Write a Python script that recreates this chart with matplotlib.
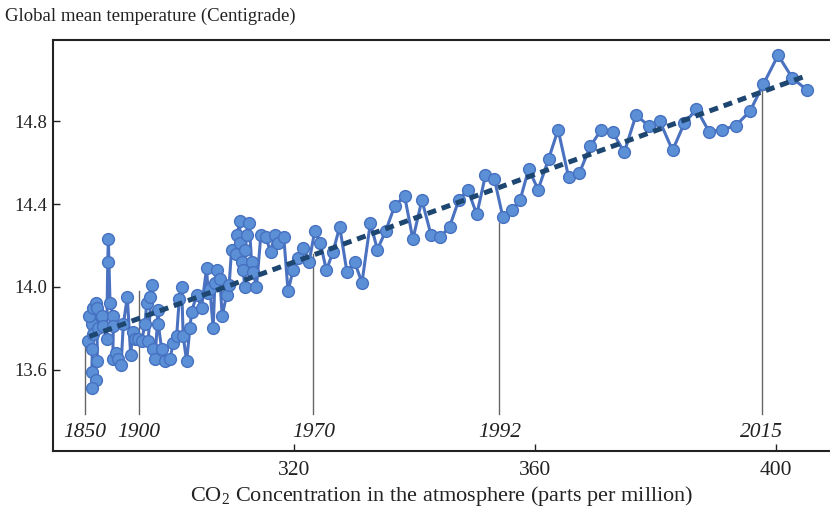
import numpy as np
import matplotlib
matplotlib.use("Agg")
import matplotlib.pyplot as plt

plt.rcParams['font.family'] = ['Liberation Serif', 'DejaVu Serif']
plt.rcParams['mathtext.fontset'] = 'custom'
plt.rcParams['mathtext.rm'] = 'Liberation Serif'

# CO2 (ppm) en temperatuur (°C)
co2 = [285.80, 286.42, 286.02, 286.68, 286.42, 287.13, 286.58, 286.42, 287.13, 286.42,
       287.35, 287.25, 287.51, 288.07, 288.24, 288.90, 289.07, 289.17, 289.45, 290.00,
       290.00, 289.90, 290.45, 290.83, 291.28, 291.66, 292.32, 292.88, 293.21, 293.60,
       294.14, 294.71, 295.25, 295.54, 296.08, 296.36, 295.80, 296.63, 296.91, 297.46,
       297.46, 298.02, 298.57, 299.40, 299.95, 300.51, 300.94, 301.34, 301.60, 302.17,
       302.71, 303.00, 303.82, 304.65, 305.48, 305.75, 306.03, 306.58, 306.86, 307.14,
       307.69, 308.07, 308.80, 309.23, 309.63, 310.34, 310.56, 311.00, 311.00, 311.29,
       311.55, 311.83, 311.83, 312.22, 312.55, 312.95, 313.21, 313.77, 314.49, 315.32,
       316.10, 316.81, 317.36, 318.30, 319.01, 319.84, 320.67, 321.50, 322.50, 323.44,
       324.38, 325.38, 326.47, 327.59, 328.80, 330.07, 331.28, 332.68, 333.84, 335.21,
       336.70, 338.36, 339.74, 341.23, 342.76, 344.25, 345.82, 347.37, 348.86, 350.35,
       351.79, 353.28, 354.66, 356.15, 357.54, 358.97, 360.53, 362.29, 363.85, 365.60,
       367.38, 369.20, 371.03, 372.90, 374.84, 376.78, 378.87, 380.76, 382.85, 384.79,
       386.83, 388.93, 391.14, 393.36, 395.73, 397.94, 400.38, 402.75, 405.24]
temp = [13.74, 13.82, 13.86, 13.90, 13.70, 13.92, 13.77, 13.59, 13.55, 13.51,
        13.64, 13.90, 13.80, 13.86, 13.81, 13.75, 14.12, 14.23, 13.92, 13.86,
        13.81, 13.65, 13.68, 13.65, 13.62, 13.82, 13.95, 13.67, 13.78, 13.75,
        13.75, 13.74, 13.82, 13.92, 13.95, 14.01, 13.74, 13.70, 13.65, 13.89,
        13.82, 13.70, 13.64, 13.65, 13.73, 13.76, 13.94, 14.00, 13.76, 13.64,
        13.80, 13.88, 13.96, 13.90, 14.09, 13.97, 13.99, 13.80, 14.02, 14.08,
        14.04, 13.86, 13.96, 14.01, 14.18, 14.16, 14.25, 14.32, 14.21, 14.12,
        14.08, 14.00, 14.18, 14.25, 14.31, 14.12, 14.07, 14.00, 14.25, 14.24,
        14.17, 14.25, 14.21, 14.24, 13.98, 14.08, 14.14, 14.19, 14.12, 14.27,
        14.21, 14.08, 14.17, 14.29, 14.07, 14.12, 14.02, 14.31, 14.18, 14.27,
        14.39, 14.44, 14.23, 14.42, 14.25, 14.24, 14.29, 14.42, 14.47, 14.35,
        14.54, 14.52, 14.34, 14.37, 14.42, 14.57, 14.47, 14.62, 14.76, 14.53,
        14.55, 14.68, 14.76, 14.75, 14.65, 14.83, 14.78, 14.80, 14.66, 14.79,
        14.86, 14.75, 14.76, 14.78, 14.85, 14.98, 15.12, 15.01, 14.95]

# trendlijn (begin- en eindpunt)
trend_co2 = [286.0, 405.0]
trend_temp = [13.76, 15.02]

# jaartallen met bijbehorende CO2 en hoogte van de hulplijn
years = ["1850", "1900", "1970", "1992", "2015"]
year_co2 = [285.3, 294.2, 323.2, 354.1, 397.7]
year_top = [13.72, 13.98, 14.16, 14.31, 14.99]

x_ticks = [320, 360, 400]
y_ticks = [13.6, 14.0, 14.4, 14.8]

fig = plt.figure(figsize=(8.30, 5.12), dpi=100)
ax = fig.add_axes([0.064, 0.119, 0.936, 0.803])
ax.set_xlim(280, 409)
ax.set_ylim(13.206, 15.194)

# hulplijnen voor de jaartallen
trans = ax.get_xaxis_transform()
line_bottom = 13.206 + 0.09 * (15.194 - 13.206)
for yr, xc, top in zip(years, year_co2, year_top):
    ax.plot([xc, xc], [line_bottom, top], color='#666666', lw=1.0, zorder=1)
    ax.text(xc, 0.045, yr, transform=trans, ha='center', va='center',
            fontsize=15.5, fontstyle='italic', color='#222222')

ax.plot(co2, temp, '-o', color='#4a72c0', lw=2.2, markersize=8.5,
        markerfacecolor='#5b8fd6', markeredgecolor='#4670c0', markeredgewidth=1.0,
        zorder=3)
ax.plot(trend_co2, trend_temp, color='#1d4670', lw=3.6, linestyle=(0, (1.8, 1.2)),
        zorder=4)

ax.set_xticks(x_ticks)
ax.set_yticks(y_ticks)
ax.set_yticklabels([f"{v:.1f}" for v in y_ticks])
ax.tick_params(direction='in', length=5, width=1.0, colors='#222222')
ax.tick_params(axis='x', pad=7, labelsize=15.5)
ax.tick_params(axis='y', pad=4, labelsize=13.5)

for s in ['left', 'bottom', 'top']:
    ax.spines[s].set_linewidth(1.5)
    ax.spines[s].set_color('#222222')
ax.spines['right'].set_visible(False)

ax.set_xlabel(r"CO$_\mathregular{2}$ Concentration in the atmosphere (parts per million)",
              fontsize=16, color='#222222', labelpad=3)
fig.text(0.006, 0.968, "Global mean temperature (Centigrade)", fontsize=13.5,
         color='#222222', ha='left', va='center')

fig.savefig("out.png", dpi=100)
